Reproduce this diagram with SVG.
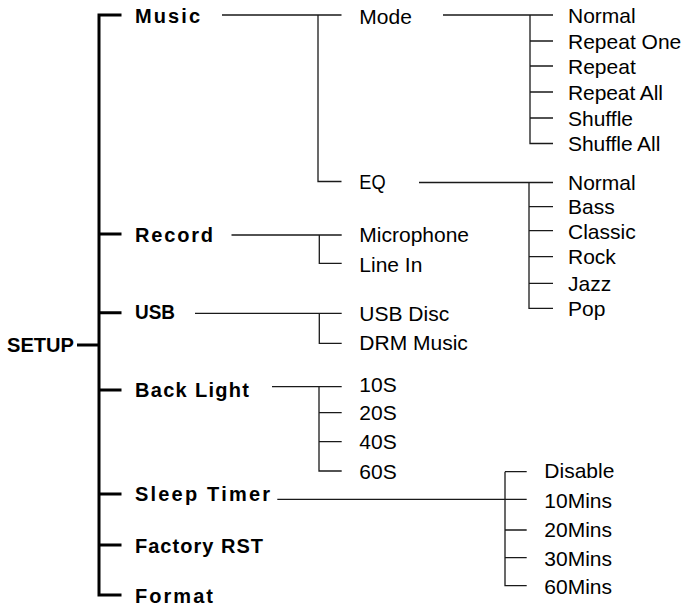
<svg xmlns="http://www.w3.org/2000/svg" width="687" height="607" viewBox="0 0 687 607">
<style>
.b{font-family:"Liberation Sans",Arial,sans-serif;font-weight:bold;font-size:20px;fill:#000}
.r{font-family:"Liberation Sans",Arial,sans-serif;font-size:21px;fill:#000}
.main{fill:none;stroke:#000;stroke-width:3}
.thin{fill:none;stroke:#1a1a1a;stroke-width:1.3}
</style>
<rect width="687" height="607" fill="#fff"/>
<g id="connectors">
  <path class="main" d="M121.5,15 H99 V595 H121.5 M99,234 H121.5 M99,312.7 H121.5 M77,345 H99 M99,390 H121.5 M99,494 H121.5 M99,545 H121.5"/>
  <path class="thin" d="M222,15 H341.5 M318,15 V181.5 H341.5"/>
  <path class="thin" d="M443,15 H553 M530,15 V143.5 H553 M530,41 H553 M530,66 H553 M530,92 H553 M530,118 H553"/>
  <path class="thin" d="M419,182.5 H553 M529,182.5 V308.3 H553 M529,206.7 H553 M529,230.7 H553 M529,256.7 H553 M529,283.3 H553"/>
  <path class="thin" d="M231.5,235 H341.7 M319.3,235 V263.3 H341.7"/>
  <path class="thin" d="M195,313.3 H341.7 M319.3,313.3 V343.3 H341.7"/>
  <path class="thin" d="M272,386.7 H341.7 M319,386.7 V471 H341.7 M319,412.7 H341.7 M319,441.7 H341.7"/>
  <path class="thin" d="M277.3,499.3 H526.7 M505,471.7 V585.7 H526.7 M505,471.7 H526.7 M505,530 H526.7 M505,557.7 H526.7"/>
</g>
<g id="setup"><text class="b" x="7" y="352" textLength="67" lengthAdjust="spacingAndGlyphs">SETUP</text></g>
<g id="music"><text class="b" x="135" y="23" textLength="65">Music</text></g>
<g id="record"><text class="b" x="135" y="241.7" textLength="78">Record</text></g>
<g id="usb"><text class="b" x="135" y="319" textLength="40" lengthAdjust="spacingAndGlyphs">USB</text></g>
<g id="backlight"><text class="b" x="135" y="397" textLength="114">Back Light</text></g>
<g id="sleeptimer"><text class="b" x="135" y="501" textLength="135">Sleep Timer</text></g>
<g id="factoryrst"><text class="b" x="135" y="553" textLength="128">Factory RST</text></g>
<g id="format"><text class="b" x="135" y="603" textLength="78">Format</text></g>
<g id="mode"><text class="r" x="359.3" y="24">Mode</text></g>
<g id="eq"><text class="r" x="359.3" y="188.5" textLength="26.3" lengthAdjust="spacingAndGlyphs">EQ</text></g>
<g id="mode-normal"><text class="r" x="568" y="23.3">Normal</text></g>
<g id="repeat-one"><text class="r" x="568" y="48.5">Repeat One</text></g>
<g id="repeat"><text class="r" x="568" y="73.7">Repeat</text></g>
<g id="repeat-all"><text class="r" x="568" y="99.5" textLength="95">Repeat All</text></g>
<g id="shuffle"><text class="r" x="568" y="125.5">Shuffle</text></g>
<g id="shuffle-all"><text class="r" x="568" y="150.5" textLength="92.3">Shuffle All</text></g>
<g id="eq-normal"><text class="r" x="568" y="189.5">Normal</text></g>
<g id="bass"><text class="r" x="568" y="214">Bass</text></g>
<g id="classic"><text class="r" x="568" y="238.5">Classic</text></g>
<g id="rock"><text class="r" x="568" y="264">Rock</text></g>
<g id="jazz"><text class="r" x="568" y="290.5">Jazz</text></g>
<g id="pop"><text class="r" x="568" y="315.5">Pop</text></g>
<g id="microphone"><text class="r" x="359.3" y="242.3">Microphone</text></g>
<g id="line-in"><text class="r" x="359.3" y="271.7">Line In</text></g>
<g id="usb-disc"><text class="r" x="359.3" y="320.7">USB Disc</text></g>
<g id="drm-music"><text class="r" x="359.3" y="350">DRM Music</text></g>
<g id="s10"><text class="r" x="359.3" y="392">10S</text></g>
<g id="s20"><text class="r" x="359.3" y="420">20S</text></g>
<g id="s40"><text class="r" x="359.3" y="449.3">40S</text></g>
<g id="s60"><text class="r" x="359.3" y="478.7">60S</text></g>
<g id="disable"><text class="r" x="544.3" y="478.3">Disable</text></g>
<g id="m10"><text class="r" x="544.3" y="508.3">10Mins</text></g>
<g id="m20"><text class="r" x="544.3" y="537.3">20Mins</text></g>
<g id="m30"><text class="r" x="544.3" y="566">30Mins</text></g>
<g id="m60"><text class="r" x="544.3" y="594.3">60Mins</text></g>
</svg>
